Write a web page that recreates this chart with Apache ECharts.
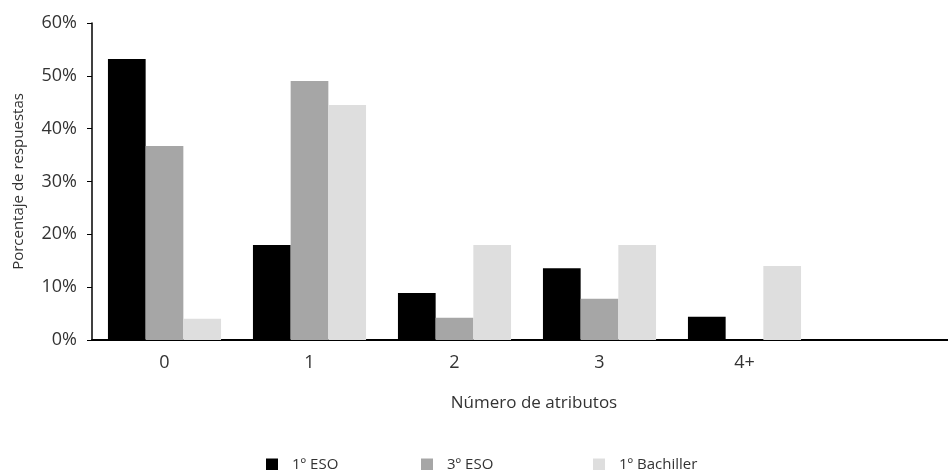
<!DOCTYPE html>
<html>
<head>
<meta charset="utf-8">
<script src="https://cdn.jsdelivr.net/npm/echarts@6/dist/echarts.min.js"></script>
<style>html,body{margin:0;padding:0;background:#fff}#c{width:948px;height:470px}</style>
</head>
<body>
<div id="c"></div>
<script>
var categories = ['0', '1', '2', '3', '4+'];
var eso1 = [53.2, 18.0, 8.9, 13.6, 4.4];
var eso3 = [36.7, 49.0, 4.2, 7.8, 0];
var bach = [4.0, 44.5, 18.0, 18.0, 14.0];
var yTicks = [0, 10, 20, 30, 40, 50, 60];
var seriesNames = ['1º ESO', '3º ESO', '1º Bachiller'];
var colors = ['#000000', '#a6a6a6', '#dedede'];

var FONT = 'Open Sans';
var chart = echarts.init(document.getElementById('c'), null, {renderer: 'canvas'});
var legendLeft = [261, 416, 588];
var legends = seriesNames.map(function (n, i) {
  return {
    data: [n], left: legendLeft[i], top: 452, icon: 'rect', itemWidth: 12, itemHeight: 12,
    selectedMode: false,
    textStyle: {fontFamily: FONT, fontSize: 15, color: '#333', padding: [0, 0, 0, 9]}
  };
});
chart.setOption({
  animation: false,
  backgroundColor: '#fff',
  color: colors,
  legend: legends,
  grid: [
    {left: 92, width: 725, top: 23, bottom: 130, containLabel: false},
    {left: 92, right: 0, top: 23, bottom: 130, containLabel: false}
  ],
  xAxis: [{
    type: 'category', data: categories, gridIndex: 0,
    axisLine: {show: false},
    axisTick: {show: false},
    axisLabel: {fontFamily: FONT, fontSize: 18, color: '#333', margin: 14}
  }, {
    type: 'value', gridIndex: 1, min: 0, max: 1,
    name: 'Número de atributos', nameLocation: 'middle', nameGap: 55,
    nameTextStyle: {fontFamily: FONT, fontSize: 17, color: '#333', padding: [0, 0, 0, 28]},
    axisLine: {show: true, lineStyle: {color: '#000', width: 2}},
    axisTick: {show: false}, axisLabel: {show: false}, splitLine: {show: false}
  }],
  yAxis: [{
    type: 'value', gridIndex: 0, min: yTicks[0], max: yTicks[yTicks.length - 1], interval: 10,
    name: 'Porcentaje de respuestas', nameLocation: 'middle', nameGap: 66,
    nameTextStyle: {fontFamily: FONT, fontSize: 15, color: '#333'},
    axisLine: {show: true, lineStyle: {color: '#000', width: 1.5}},
    axisTick: {show: true, length: 5, lineStyle: {color: '#000'}},
    splitLine: {show: false},
    axisLabel: {fontFamily: FONT, fontSize: 18, color: '#333', margin: 15, formatter: '{value}%'}
  }, {
    type: 'value', gridIndex: 1, min: 0, max: 1, show: false
  }],
  series: [
    {name: seriesNames[0], type: 'bar', data: eso1, barGap: '0%', barCategoryGap: '22%'},
    {name: seriesNames[1], type: 'bar', data: eso3, barGap: '0%', barCategoryGap: '22%'},
    {name: seriesNames[2], type: 'bar', data: bach, barGap: '0%', barCategoryGap: '22%'}
  ]
});
</script>
</body>
</html>
